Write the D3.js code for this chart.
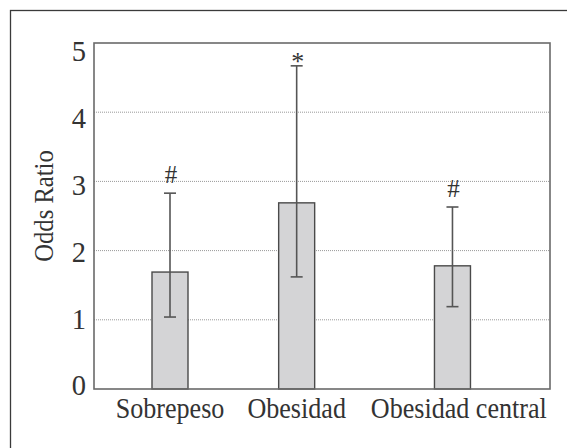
<!DOCTYPE html>
<html>
<head>
  <script src="https://d3js.org/d3.v7.min.js"></script>
  <style>
  body { margin: 0; background: #fff; }
  svg text { font-family: "Liberation Serif", serif; fill: #333; }
  </style>
</head>
<body>
  <script>
  var w = 567;
  var h = 448;
  var serif = "'Liberation Serif', serif";

  //Chart data
  var categories = ["Sobrepeso", "Obesidad", "Obesidad central"];
  var oddsRatio = [1.69, 2.69, 1.78];
  var ciLow = [1.04, 1.62, 1.19];
  var ciHigh = [2.83, 4.67, 2.63];
  var marks = ["#", "*", "#"];
  var barPos = [0.6, 1.6, 2.83];
  var labelPos = [0.6, 1.6, 2.88];
  var yTicks = [0, 1, 2, 3, 4, 5];

  var plot = {left: 94, top: 43, right: 550, bottom: 389};

  var svg = d3.select("body")
    .append("svg")
    .attr("width", w)
    .attr("height", h);

  //Outer frame, cut by the picture edge
  svg.append("rect")
    .attr("x", 10.5).attr("y", 10.5)
    .attr("width", 700).attr("height", 600)
    .attr("fill", "none")
    .attr("stroke", "#3a3a3a")
    .attr("stroke-width", 1.3);

  var x = d3.scaleLinear().domain([0, 3.6]).range([plot.left, plot.right]);
  var y = d3.scaleLinear().domain([0, 5]).range([plot.bottom, plot.top]);
  //tick labels in the original sit a little off their gridlines
  var yLab = d3.scaleLinear().domain([0, 5]).range([plot.bottom - 3.5, plot.top + 8]);
  var barW = 36;

  //Dotted gridlines
  svg.append("g")
    .selectAll("line")
    .data(yTicks.filter(function(d){ return d > 0 && d < 5; }))
    .enter()
    .append("line")
      .attr("x1", plot.left).attr("x2", plot.right)
      .attr("y1", function(d){ return y(d); })
      .attr("y2", function(d){ return y(d); })
      .attr("stroke", "#999")
      .attr("stroke-width", 1)
      .attr("stroke-dasharray", "1,1");

  //Y axis tick labels
  var yAxis = d3.axisLeft(yLab).tickValues(yTicks).tickFormat(d3.format("d"))
    .tickSize(0).tickPadding(8);
  var yg = svg.append("g")
    .attr("transform", "translate(" + plot.left + ",0)")
    .call(yAxis)
    .attr("font-family", serif);
  yg.select(".domain").remove();
  yg.selectAll("text")
    .attr("font-size", 28.5)
    .attr("dy", "0.33em")
    .style("font-family", serif)
    .attr("fill", "#333");

  //Bars
  svg.append("g")
    .selectAll("rect")
    .data(categories)
    .enter()
    .append("rect")
      .attr("x", function(d, i){ return x(barPos[i]) - barW / 2; })
      .attr("y", function(d, i){ return y(oddsRatio[i]); })
      .attr("width", barW)
      .attr("height", function(d, i){ return y(0) - y(oddsRatio[i]); })
      .attr("fill", "#d4d4d6")
      .attr("stroke", "#4a4a4a")
      .attr("stroke-width", 1.4);

  //Error bars
  var eb = svg.append("g")
    .attr("stroke", "#555")
    .attr("stroke-width", 1.6);
  categories.forEach(function(d, i){
    var cx = x(barPos[i]);
    eb.append("line")
      .attr("x1", cx).attr("x2", cx)
      .attr("y1", y(ciLow[i])).attr("y2", y(ciHigh[i]));
    [ciLow[i], ciHigh[i]].forEach(function(v){
      eb.append("line")
        .attr("x1", cx - 6).attr("x2", cx + 6)
        .attr("y1", y(v)).attr("y2", y(v));
    });
  });

  //Significance marks
  svg.append("g")
    .selectAll("text")
    .data(marks)
    .enter()
    .append("text")
      .attr("x", function(d, i){ return x(barPos[i]) + 1; })
      .attr("y", function(d, i){ return y(ciHigh[i]) + (d == "*" ? 4 : -10); })
      .attr("text-anchor", "middle")
      .attr("font-size", function(d){ return d == "*" ? 26 : 25; })
      .style("font-family", serif)
      .text(function(d){ return d; });

  //Plot frame
  svg.append("rect")
    .attr("x", plot.left).attr("y", plot.top)
    .attr("width", plot.right - plot.left)
    .attr("height", plot.bottom - plot.top)
    .attr("fill", "none")
    .attr("stroke", "#6a6a6a")
    .attr("stroke-width", 1.6);

  //Category labels
  svg.append("g")
    .selectAll("text")
    .data(categories)
    .enter()
    .append("text")
      .attr("transform", function(d, i){
        return "translate(" + x(labelPos[i]) + ",418) scale(0.9,1)";
      })
      .attr("text-anchor", "middle")
      .attr("font-size", 29)
      .style("font-family", serif)
      .text(function(d){ return d; });

  //Y axis title
  svg.append("text")
    .attr("transform", "translate(53,206) rotate(-90) scale(0.88,1)")
    .attr("text-anchor", "middle")
    .attr("font-size", 28)
    .style("font-family", serif)
    .text("Odds Ratio");
  </script>
</body>
</html>
